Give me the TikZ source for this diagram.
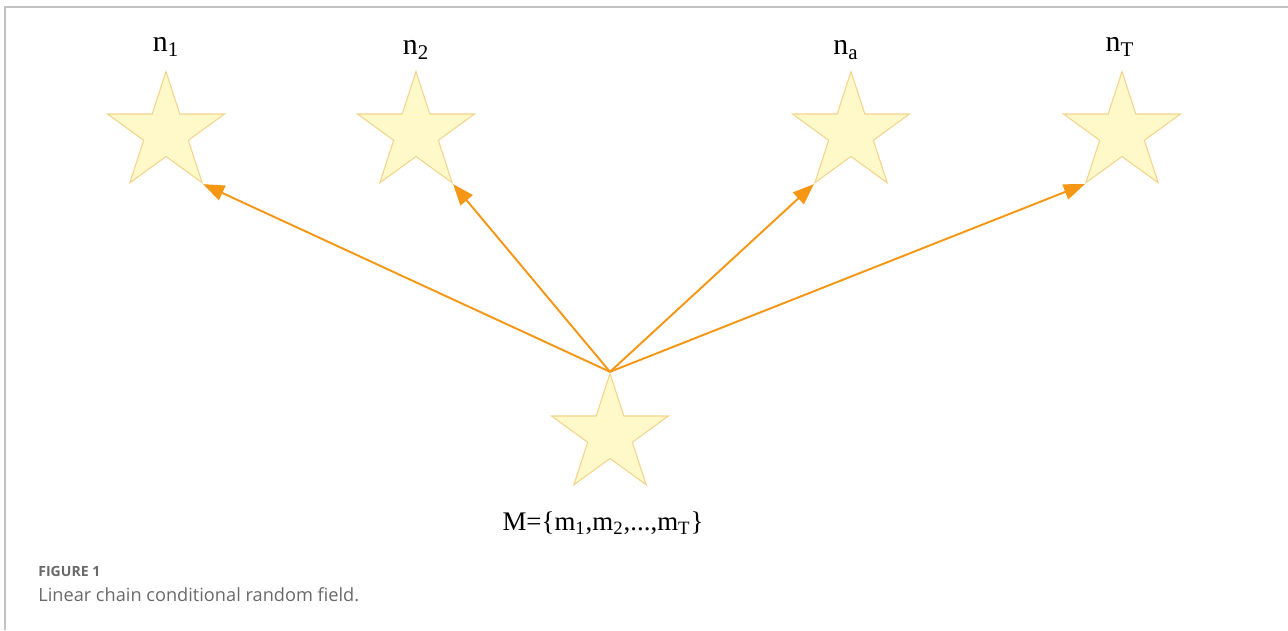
\documentclass[tikz,border=0pt]{standalone}
\usepackage{fontspec}
\setmainfont{Liberation Serif}
\newfontfamily\capfont{Open Sans}
\usetikzlibrary{shapes.geometric,arrows.meta,positioning}

\definecolor{starfill}{RGB}{255,249,202}
\definecolor{stardraw}{RGB}{244,212,140}
\definecolor{arrorange}{RGB}{245,150,20}
\definecolor{framegray}{RGB}{195,195,195}
\definecolor{capgray}{RGB}{105,105,105}

\begin{document}
\begin{tikzpicture}[
  x=0.02cm, y=-0.02cm,
  st/.style={star, star points=5, star point ratio=2.618, minimum size=2.46cm,
    inner sep=0pt, fill=starfill, draw=stardraw, line width=0.6pt},
  lbl/.style={font=\fontsize{17}{20}\selectfont, inner sep=0pt},
  arr/.style={draw=arrorange, line width=1.1pt,
    -{Triangle[length=12pt, width=9pt]}}
]
\useasboundingbox (0,0) rectangle (1288,630);
% frame
\draw[framegray, line width=0.8pt] (5,630) -- (5,7) -- (1288,7);
% stars
\node[st] (n1) at (166,133) {};
\node[st] (n2) at (416,133) {};
\node[st] (na) at (851,133) {};
\node[st] (nT) at (1122,133) {};
\node[st] (m) at (610,435) {};
% labels
\node[lbl] (l1) at (166,47) {n\textsubscript{1}};
\node[lbl] (l2) at (416,50) {n\textsubscript{2}};
\node[lbl] (la) at (846,50) {n\textsubscript{a}};
\node[lbl] (lT) at (1120,47) {n\textsubscript{T}};
\node[lbl, font=\fontsize{15.3}{18}\selectfont] (lm) at (603,523) {M=\{m\textsubscript{1},m\textsubscript{2},...,m\textsubscript{T}\}};
% arrows
\draw[arr] (m.outer point 1) -- (n1.outer point 4);
\draw[arr] (m.outer point 1) -- (n2.outer point 4);
\draw[arr] (m.outer point 1) -- (na.outer point 3);
\draw[arr] (m.outer point 1) -- (nT.outer point 3);
% caption
\node[anchor=west, inner sep=0pt, text=capgray, font=\capfont\fontsize{8}{10}\selectfont\bfseries] (fig) at (38,571) {FIGURE 1};
\node[anchor=west, inner sep=0pt, text=capgray, font=\capfont\fontsize{10.35}{13}\selectfont] (cap) at (38,595) {Linear chain conditional random field.};
\end{tikzpicture}
\end{document}
